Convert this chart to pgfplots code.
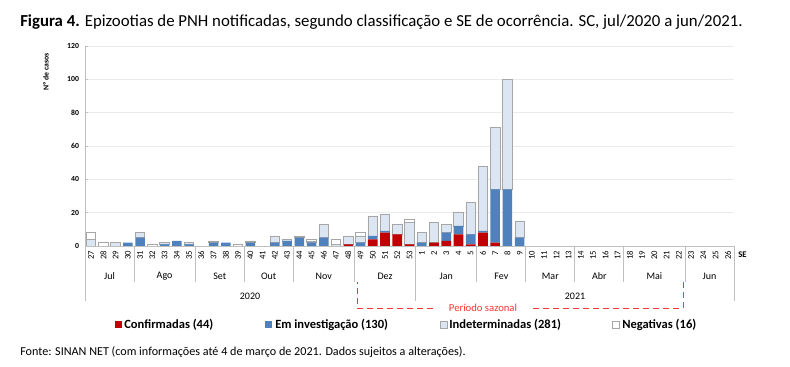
\documentclass[border=0pt]{standalone}
\usepackage{pgfplots}
\pgfplotsset{compat=1.18}
\usepackage{pgfplotstable}
\usepackage{fontspec}
\setmainfont{Carlito}
\definecolor{conf}{HTML}{C00000}
\definecolor{inv}{HTML}{4F81BD}
\definecolor{ind}{HTML}{DCE6F2}
\definecolor{bord}{HTML}{A6A6A6}
\definecolor{sep}{HTML}{BFBFBF}
\definecolor{saz}{HTML}{FF3333}

\pgfplotstableread{
x conf inv ind neg
0 0 0 4 4
1 0 0 0 2
2 0 0 2 0
3 0 2 0 0
4 0 5 3 0
5 0 0 0 1
6 0 1 1 0
7 0 3 0 0
8 0 1 1 0
9 0 0 0 0
10 0 2 1 0
11 0 2 0 0
12 0 0 0 1
13 0 2 1 0
14 0 0 0 0
15 0 2 4 0
16 0 3 1 0
17 0 5 1 0
18 0 2 1 1
19 0 5 8 0
20 0 0 1 3
21 1 0 5 0
22 0 2 4 2
23 4 2 12 0
24 8 1 10 0
25 7 0 6 0
26 1 0 13 2
27 0 2 6 0
28 2 0 12 0
29 3 5 5 0
30 7 5 8 0
31 1 6 19 0
32 8 1 39 0
33 2 32 37 0
34 0 34 66 0
35 0 5 10 0
}\data

\begin{document}
\begin{tikzpicture}
\path (0,0) rectangle (592.5pt,-275.25pt);
\begin{axis}[
  at={(63.75pt,-184.5pt)}, anchor=south west,
  scale only axis, width=486.75pt, height=150pt,
  xmin=-0.5, xmax=52.5, ymin=0, ymax=120,
  ybar stacked, bar width=0.78,
  ytick={0,20,...,120},
  ymajorgrids, grid style={color=black!8, line width=0.5pt},
  axis x line*=bottom, axis y line*=left,
  axis line style={draw=sep, line width=0.6pt},
  y tick style={draw=sep, line width=0.6pt},
  ytick pos=left, major tick length=2.5pt,
  /pgf/number format/assume math mode=true,
  yticklabel style={font=\bfseries\fontsize{5.8}{6}\selectfont, xshift=-1pt},
  xtick={0,...,52},
  xticklabels={27,28,29,30,31,32,33,34,35,36,37,38,39,40,41,42,43,44,45,46,47,48,49,50,51,52,53,1,2,3,4,5,6,7,8,9,10,11,12,13,14,15,16,17,18,19,20,21,22,23,24,25,26},
  x tick style={draw=none},
  xticklabel style={rotate=90, anchor=east, font=\fontsize{6.5}{7}\selectfont, xshift=0pt},
]
\addplot[fill=conf, draw=none] table[x=x,y=conf]{\data};
\addplot[fill=inv, draw=none] table[x=x,y=inv]{\data};
\addplot[fill=ind, draw=bord, line width=0.6pt] table[x=x,y=ind]{\data};
\addplot[fill=white, draw=bord, line width=0.6pt] table[x=x,y=neg]{\data};
\end{axis}
\begin{scope}[x=0.75pt,y=-0.75pt]
  % month separators
  \foreach \k in {4,9,13,17,22,32,36,40,44,49}
    \draw[sep, line width=0.6pt] (85+\k*12.2453,246) -- (85+\k*12.2453,282);
  \foreach \k in {0,27,53}
    \draw[sep, line width=0.6pt] (85+\k*12.2453,246) -- (85+\k*12.2453,301);
  % month labels
  \foreach \a/\b/\m in {0/4/Jul,4/9/Ago,9/13/Set,13/17/Out,17/22/Nov,22/27/Dez,27/32/Jan,32/36/Fev,36/40/Mar,40/44/Abr,44/49/Mai,49/53/Jun}
    \node[font=\fontsize{7.5}{8}\selectfont, inner sep=0pt] at (85+\a*12.2453/2+\b*12.2453/2,276.5) {\m};
  \node[font=\fontsize{7.5}{8}\selectfont, inner sep=0pt] at (250,296) {2020};
  \node[font=\fontsize{7.5}{8}\selectfont, inner sep=0pt] at (575,296) {2021};
  \node[font=\bfseries\fontsize{6.5}{7}\selectfont, inner sep=0pt, anchor=west] at (738,255) {SE};
  % y label
  \node[font=\bfseries\fontsize{5.8}{6}\selectfont, inner sep=0pt, rotate=90] at (46,72) {Nº de casos};
  % seasonal period
  \draw[saz, dashed, dash pattern=on 4.5pt off 3pt, line width=0.6pt] (433,308) -- (357,308) -- (357,282);
  \draw[saz, dashed, dash pattern=on 4.5pt off 3pt, line width=0.6pt] (533,308) -- (683,308) -- (683,282);
  \node[saz, font=\fontsize{8}{9}\selectfont, inner sep=0pt] at (483,308) {Período sazonal};
  % title
  \node[anchor=west, inner sep=0pt, font=\fontsize{12.6}{14}\selectfont] at (20,22) {\textbf{Figura 4.} Epizootias de PNH notificadas, segundo classificação e SE de ocorrência. SC, jul/2020 a jun/2021.};
  % legend
  \fill[conf] (115,321) rectangle (122,328);
  \node[anchor=west, inner sep=0pt, font=\bfseries\fontsize{9.4}{10}\selectfont] at (124,325) {Confirmadas (44)};
  \fill[inv] (265,321) rectangle (272,328);
  \node[anchor=west, inner sep=0pt, font=\bfseries\fontsize{9.4}{10}\selectfont] at (275,325) {Em investigação (130)};
  \filldraw[fill=ind, draw=bord, line width=0.5pt] (440,321) rectangle (447,328);
  \node[anchor=west, inner sep=0pt, font=\bfseries\fontsize{9.4}{10}\selectfont] at (449,325) {Indeterminadas (281)};
  \filldraw[fill=white, draw=bord, line width=0.5pt] (612,321) rectangle (619,328);
  \node[anchor=west, inner sep=0pt, font=\bfseries\fontsize{9.4}{10}\selectfont] at (622,325) {Negativas (16)};
  % source
  \node[anchor=west, inner sep=0pt, font=\fontsize{9.1}{10}\selectfont] at (20,352) {Fonte: SINAN NET (com informações até 4 de março de 2021. Dados sujeitos a alterações).};
\end{scope}
\end{tikzpicture}
\end{document}
